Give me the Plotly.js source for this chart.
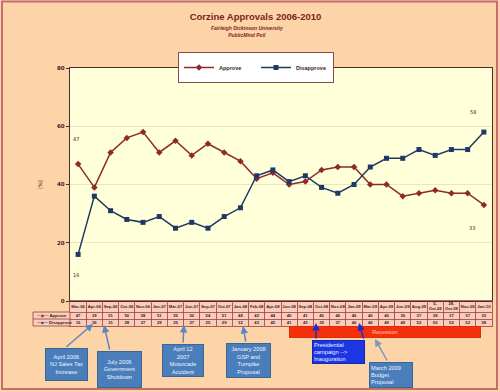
<!DOCTYPE html>
<html>
<head>
<meta charset="utf-8">
<script src="https://cdn.plot.ly/plotly-3.0.1.min.js"></script>
<style>html,body{margin:0;padding:0;background:#FCD4A8;}#chart{width:500px;height:392px;}</style>
</head>
<body>
<div id="chart"></div>
<script>
// ---- data ----
const categories = ['Mar-06','Apr-06','Sep-06','Oct-06','Nov-06','Jan-07','Mar-07','Jun-07','Sep-07','Oct-07','Jan-08','Feb-08','Apr-08','Jun-08','Sep-08','Oct-08','Nov-08','Jan-09','Mar-09','Apr-09','Jun-09','Aug-09','5-Oct-09','28-Oct-09','Nov-09','Jan-10'];
const headerLabels = ['Mar-06','Apr-06','Sep-06','Oct-06','Nov-06','Jan-07','Mar-07','Jun-07','Sep-07','Oct-07','Jan-08','Feb-08','Apr-08','Jun-08','Sep-08','Oct-08','Nov-08','Jan-09','Mar-09','Apr-09','Jun-09','Aug-09','5-<br>Oct-09','28-<br>Oct-09','Nov-09','Jan-10'];
const approve    = [47,39,51,56,58,51,55,50,54,51,48,42,44,40,41,45,46,46,40,40,36,37,38,37,37,33];
const disapprove = [16,36,31,28,27,29,25,27,25,29,32,43,45,41,43,39,37,40,46,49,49,52,50,52,52,58];
const yTicks = [0,20,40,60,80];

// ---- helpers (pixel -> paper) ----
const W = 500, H = 392;
const fx = p => p / W;
const fy = p => 1 - p / H;

const dark = '#3A1E1E';
const gridRed = '#9B4040';
const apColor = '#8E2A2A';
const disColor = '#1F3864';
const tblFont = {family: 'Liberation Sans', size: 4.2, color: dark, weight: 'bold'};

const traces = [
  {x: categories, y: approve, name: 'Approve', type: 'scatter', mode: 'lines+markers',
   line: {color: apColor, width: 1.5}, marker: {symbol: 'diamond', size: 5, color: apColor},
   xaxis: 'x', yaxis: 'y', hoverinfo: 'skip'},
  {x: categories, y: disapprove, name: 'Disapprove', type: 'scatter', mode: 'lines+markers',
   line: {color: disColor, width: 1.5}, marker: {symbol: 'square', size: 5, color: disColor},
   xaxis: 'x', yaxis: 'y', hoverinfo: 'skip'},
  // data table rows
  {x: categories, y: categories.map(() => 19.5), text: headerLabels, mode: 'text', type: 'scatter',
   textfont: tblFont, xaxis: 'x2', yaxis: 'y2', showlegend: false, hoverinfo: 'skip', cliponaxis: false},
  {x: categories, y: categories.map(() => 10.5), text: approve.map(String), mode: 'text', type: 'scatter',
   textfont: tblFont, xaxis: 'x2', yaxis: 'y2', showlegend: false, hoverinfo: 'skip', cliponaxis: false},
  {x: categories, y: categories.map(() => 3.5), text: disapprove.map(String), mode: 'text', type: 'scatter',
   textfont: tblFont, xaxis: 'x2', yaxis: 'y2', showlegend: false, hoverinfo: 'skip', cliponaxis: false}
];

function box(text, x0, y0, x1, y1, bg, border, align) {
  return {xref: 'paper', yref: 'paper', x: fx(x0), y: fy(y0), xanchor: 'left', yanchor: 'top',
    width: x1 - x0 - 4, height: y1 - y0 - 4, borderpad: 1, borderwidth: 1,
    bgcolor: bg, bordercolor: border, text: text, align: align || 'center', valign: 'middle',
    showarrow: false, font: {family: 'Liberation Sans', size: 5.7, color: '#EEF3FF'}};
}
function arrow(tipx, tipy, tailx, taily, color) {
  return {xref: 'paper', yref: 'paper', x: fx(tipx), y: fy(tipy), ax: tailx - tipx, ay: taily - tipy,
    text: '', showarrow: true, arrowhead: 2, arrowsize: 1, arrowwidth: 1.5, arrowcolor: color, standoff: 0};
}

const steel = '#4A7EBB', steelBorder = '#3A6595';
const annotations = [
  {xref: 'paper', yref: 'paper', x: fx(247), y: fy(31), xanchor: 'center', yanchor: 'middle', showarrow: false,
   text: '<b><i>Fairleigh Dickinson University<br>PublicMind Poll</i></b>',
   font: {family: 'Liberation Sans', size: 5, color: '#7B1F1F'}},
  // data labels
  {xref: 'x', yref: 'y', x: categories[0], y: approve[0], text: String(approve[0]), showarrow: false, xshift: -2, yshift: 25,
   font: {family: 'DejaVu Sans', size: 5, color: dark}},
  {xref: 'x', yref: 'y', x: categories[0], y: disapprove[0], text: String(disapprove[0]), showarrow: false, xshift: -2, yshift: -21,
   font: {family: 'DejaVu Sans', size: 5, color: dark}},
  {xref: 'x', yref: 'y', x: categories[25], y: disapprove[25], text: String(disapprove[25]), showarrow: false, xshift: -11, yshift: 20,
   font: {family: 'DejaVu Sans', size: 5, color: dark}},
  {xref: 'x', yref: 'y', x: categories[25], y: approve[25], text: String(approve[25]), showarrow: false, xshift: -12, yshift: -23,
   font: {family: 'DejaVu Sans', size: 5, color: dark}},
  // table key column
  {xref: 'paper', yref: 'paper', x: fx(35), y: fy(315.5), xanchor: 'left', yanchor: 'middle', showarrow: false,
   text: '<span style="color:' + apColor + '">—◆—</span> Approve', font: {family: 'Liberation Sans', size: 4.2, color: dark, weight: 'bold'}},
  {xref: 'paper', yref: 'paper', x: fx(35), y: fy(322.5), xanchor: 'left', yanchor: 'middle', showarrow: false,
   text: '<span style="color:' + disColor + '">—■—</span> Disapprove', font: {family: 'Liberation Sans', size: 4.2, color: dark, weight: 'bold'}},
  // callouts
  box('April 2006<br>NJ Sales Tax<br>Increase', 45, 348, 88, 381, steel, steelBorder),
  box('July 2006<br>Government<br>Shutdown', 97, 351, 142, 388, steel, steelBorder),
  box('April 12<br>2007<br>Motorcade<br>Accident', 162, 344, 204, 377, steel, steelBorder),
  box('January 2008<br>GSP and<br>Turnpike<br>Proposal', 226, 343, 271, 378, steel, steelBorder),
  {xref: 'paper', yref: 'paper', x: fx(289), y: fy(326), xanchor: 'left', yanchor: 'top', width: 190, height: 10,
   borderpad: 0, borderwidth: 1, bgcolor: '#F4300C', bordercolor: '#E02A08', text: 'Recession', showarrow: false,
   font: {family: 'Liberation Sans', size: 5.5, color: '#FFC6B6'}},
  box('Presidential<br>campaign --><br>Inauguration', 312, 340, 365, 364, '#1B36E2', '#1427B0', 'left'),
  box('March 2009<br>Budget<br>Proposal', 369, 362, 413, 388, steel, steelBorder, 'left'),
  arrow(93, 324, 65, 348, '#5A88C0'),
  arrow(104, 325, 110, 351, '#5A88C0'),
  arrow(184, 325, 183, 344, '#5A88C0'),
  arrow(243, 326, 246, 343, '#5A88C0'),
  arrow(316, 323, 316, 340, '#1A2FC8'),
  arrow(359, 323, 364, 340, '#1A2FC8'),
  arrow(375, 339, 388, 362, '#7A98B8')
];

const shapes = [
  // table fill
  {type: 'rect', xref: 'x2 domain', yref: 'y2 domain', x0: 0, x1: 1, y0: 0, y1: 1,
   fillcolor: '#F9CDBA', line: {width: 0}, layer: 'below'},
  // key column cells
  {type: 'rect', xref: 'paper', yref: 'paper', x0: fx(33), x1: fx(70), y0: fy(326), y1: fy(312),
   fillcolor: '#F9CDBA', line: {color: gridRed, width: 0.8}},
  {type: 'line', xref: 'paper', yref: 'paper', x0: fx(33), x1: fx(70), y0: fy(319), y1: fy(319),
   line: {color: gridRed, width: 0.8}},
  // outer border
  {type: 'rect', xref: 'paper', yref: 'paper', x0: fx(2), x1: fx(497), y0: fy(389), y1: fy(1.5),
   line: {color: '#C46E74', width: 2}}
];

const layout = {
  width: W, height: H,
  margin: {l: 0, r: 0, t: 0, b: 0, pad: 0},
  paper_bgcolor: '#FCD4A8',
  plot_bgcolor: '#FFFFDA',
  title: {text: 'Corzine Approvals 2006-2010', xref: 'container', yref: 'container',
    x: 255.5 / W, y: fy(17), xanchor: 'center', yanchor: 'middle',
    font: {family: 'Liberation Sans', size: 9.5, weight: 'bold', color: '#7B1F1F'}},
  showlegend: true,
  legend: {orientation: 'h', x: fx(256), xanchor: 'center', y: fy(52), yanchor: 'top',
    bgcolor: '#FFFFFF', bordercolor: '#8B4A4A', borderwidth: 1, entrywidth: 32,
    font: {family: 'Liberation Sans', size: 5.5, color: dark, weight: 'bold'}},
  xaxis: {domain: [fx(70), fx(492)], type: 'category', categoryarray: categories, range: [-0.5, 25.5],
    showticklabels: false, ticks: '', showgrid: false, zeroline: false,
    showline: true, mirror: true, linecolor: '#4A2E2E', linewidth: 1.2, anchor: 'y', fixedrange: true},
  yaxis: {domain: [fy(301), fy(68)], range: [0, 80], tickvals: yTicks, ticks: 'outside', ticklen: 3,
    tickcolor: '#4A2E2E', tickfont: {family: 'DejaVu Sans', size: 5.5, color: dark, weight: 'bold'},
    showgrid: true, gridcolor: '#E6E6C6', gridwidth: 1, zeroline: false,
    showline: true, mirror: true, linecolor: '#4A2E2E', linewidth: 1.2, anchor: 'x', automargin: false,
    title: {text: '[%]', standoff: 14, font: {family: 'DejaVu Sans', size: 5, color: dark}}, fixedrange: true},
  xaxis2: {domain: [fx(70), fx(492)], type: 'category', categoryarray: categories, range: [-0.5, 25.5],
    anchor: 'y2', showticklabels: false, ticks: '', tickson: 'boundaries', showgrid: true,
    gridcolor: gridRed, gridwidth: 0.8, zeroline: false, showline: true, mirror: true,
    linecolor: gridRed, linewidth: 0.8, fixedrange: true},
  yaxis2: {domain: [fy(326), fy(301)], range: [0, 25], anchor: 'x2', tickvals: [7, 14],
    showticklabels: false, ticks: '', showgrid: true, gridcolor: gridRed, gridwidth: 0.8,
    zeroline: false, showline: true, mirror: true, linecolor: gridRed, linewidth: 0.8, fixedrange: true},
  annotations: annotations,
  shapes: shapes
};

Plotly.newPlot('chart', traces, layout, {staticPlot: true, displayModeBar: false});
</script>
</body>
</html>
